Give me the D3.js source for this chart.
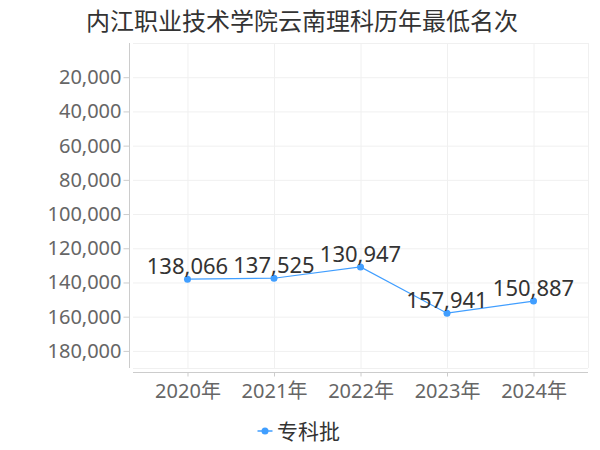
<!DOCTYPE html>
<html><head><meta charset="utf-8">
<script src="https://cdn.jsdelivr.net/npm/d3@7"></script>
<style>body{margin:0;background:#fff}svg{display:block}</style>
</head><body>
<svg id="c" width="600" height="450"></svg>
<script>
const title = "内江职业技术学院云南理科历年最低名次";
const years = ["2020年","2021年","2022年","2023年","2024年"];
const seriesName = "专科批";
const values = [138066, 137525, 130947, 157941, 150887];
const yTicks = [20000,40000,60000,80000,100000,120000,140000,160000,180000];
const yDomain = [0, 190000];

const svg = d3.select("#c");
const numFont = "'Noto Sans','Noto Sans CJK SC',sans-serif";
const cjkFont = "'Noto Sans CJK SC','Noto Sans',sans-serif";
const color = "#409EFF";
const L = 133, R = 588, T = 43, B = 368;

const x = d3.scalePoint().domain(years).range([L, R]).padding(0.63);
const y = d3.scaleLinear().domain(yDomain).range([T, B]);

// title
svg.append("text").attr("x", 302).attr("y", 30).attr("text-anchor","middle")
  .attr("font-family", cjkFont).attr("font-size", 24).attr("fill","#333").text(title);

// grid
const g = svg.append("g");
g.selectAll("line.h").data(yTicks.concat([yDomain[1]])).join("line")
  .attr("x1", L).attr("x2", R).attr("y1", d=>y(d)+0.5).attr("y2", d=>y(d)+0.5)
  .attr("stroke","#f0f0f0");
g.append("line").attr("x1",L).attr("x2",R).attr("y1",T+0.5).attr("y2",T+0.5).attr("stroke","#f0f0f0");
g.selectAll("line.v").data(years).join("line")
  .attr("x1", d=>x(d)+0.5).attr("x2", d=>x(d)+0.5).attr("y1", T).attr("y2", B)
  .attr("stroke","#f0f0f0");
g.append("line").attr("x1",R+0.5).attr("x2",R+0.5).attr("y1",T).attr("y2",B).attr("stroke","#f0f0f0");

// y axis
const ya = svg.append("g").attr("transform", `translate(${129.5},0)`)
  .call(d3.axisLeft(y).tickValues(yTicks).tickFormat(d3.format(",")).tickSize(6).tickPadding(2));
ya.select(".domain").attr("stroke","#ccc").attr("d", `M0,${T}V${B}`);
ya.selectAll(".tick line").attr("stroke","#ccc");
ya.selectAll(".tick text").attr("font-family", numFont).attr("font-size", 20).attr("fill","#666");

// x axis
const xa = svg.append("g").attr("transform", `translate(0,${372.5})`)
  .call(d3.axisBottom(x).tickSize(4).tickPadding(7));
xa.select(".domain").attr("stroke","#ccc").attr("d", `M${L},0H${R}`);
xa.selectAll(".tick line").attr("stroke","#ccc");
xa.selectAll(".tick text").attr("font-family", numFont).attr("font-size", 20).attr("fill","#666");

// line
const data = years.map((k,i)=>({k, v: values[i]}));
svg.append("path").datum(data)
  .attr("d", d3.line().x(d=>x(d.k)).y(d=>y(d.v)))
  .attr("fill","none").attr("stroke", color).attr("stroke-width", 1.2);
svg.selectAll("circle.p").data(data).join("circle")
  .attr("cx", d=>x(d.k)).attr("cy", d=>y(d.v)).attr("r", 3.5).attr("fill", color);
svg.selectAll("text.lab").data(data).join("text")
  .attr("x", d=>x(d.k)).attr("y", d=>y(d.v)-5).attr("text-anchor","middle")
  .attr("font-family", numFont).attr("font-size", 22).attr("fill","#333")
  .text(d=>d3.format(",")(d.v));

// legend
const lg = svg.append("g");
lg.append("line").attr("x1",257.5).attr("x2",272.5).attr("y1",431).attr("y2",431).attr("stroke",color).attr("stroke-width",1.5);
lg.append("circle").attr("cx",265).attr("cy",431).attr("r",3.5).attr("fill",color);
lg.append("text").attr("x",277).attr("y",439).attr("font-family",cjkFont).attr("font-size",21).attr("fill","#333").text(seriesName);
</script>
</body></html>
